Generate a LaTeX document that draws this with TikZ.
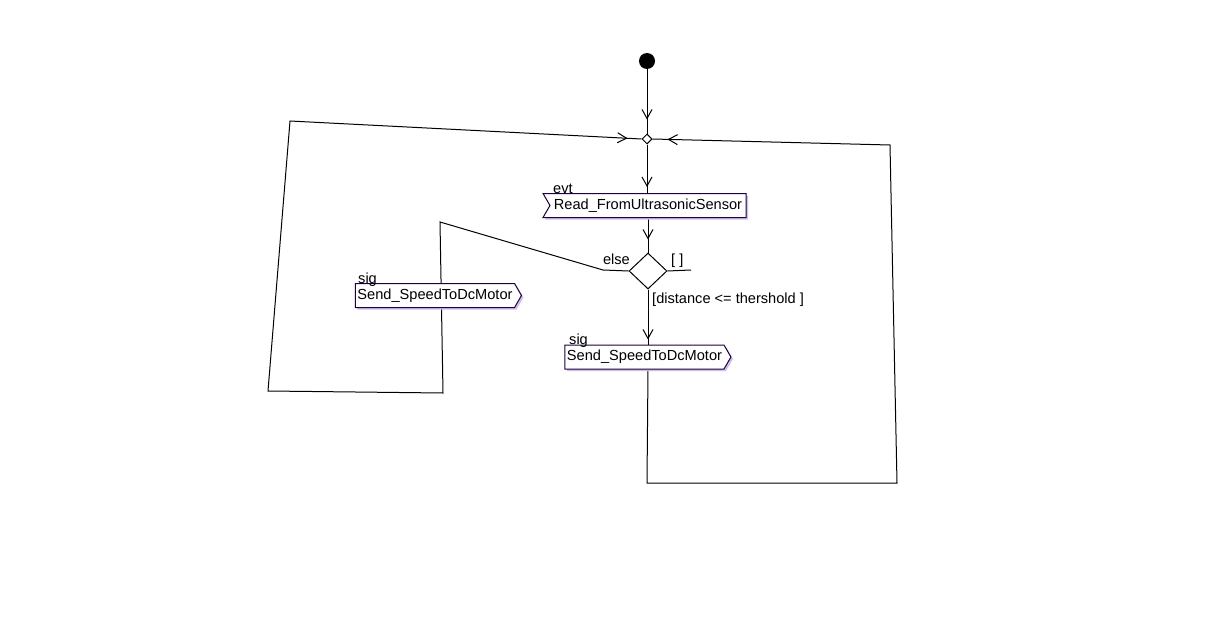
\documentclass[tikz,border=0pt]{standalone}
\usepackage{fontspec}
\setmainfont{Liberation Sans}
\usetikzlibrary{shapes.geometric,shapes.symbols,arrows.meta,decorations.markings,backgrounds,shadows,calc}
\definecolor{boxline}{RGB}{30,0,60}
\definecolor{boxshadow}{RGB}{205,190,238}
\tikzset{
  every node/.style={font=\fontsize{14.6}{16}\selectfont},
  flow/.style={line width=1pt, line join=miter},
  arrowat/.style={postaction={decorate,decoration={markings,
      mark=at position -#1 with {\arrow{Straight Barb[length=9pt,width=10pt,line width=1pt]}}}}},
  shadowed/.style={draw=boxline, line width=1pt, fill=white,
      drop shadow={shadow xshift=2pt, shadow yshift=-2pt, fill=boxshadow, opacity=1}},
  sigbox/.style={shadowed, signal, signal to=east, signal pointer angle=120,
      minimum height=24pt, inner sep=2pt},
  evtbox/.style={shadowed, signal, signal from=west, signal to=nowhere, signal pointer angle=120,
      minimum height=24pt, inner sep=2pt},
  startdot/.style={circle, fill=black, minimum size=16pt, inner sep=0pt},
  mergebox/.style={diamond, draw, line width=1pt, fill=white, minimum width=10pt, minimum height=10pt, inner sep=0pt},
  decbox/.style={diamond, draw, line width=1pt, fill=white, minimum width=38pt, minimum height=36pt, inner sep=0pt},
  lbl/.style={inner sep=0pt}
}
\begin{document}
\begin{tikzpicture}[x=1pt,y=-1pt]
\useasboundingbox (0,0) rectangle (1211,618);
% nodes
\node[startdot] (start) at (647,61) {};
\node[mergebox] (merge) at (647,139) {};
\node[evtbox, minimum width=203pt] (read) at (648,205.5) {Read\_FromUltrasonicSensor};
\node[decbox] (dec) at (648,271) {};
\node[sigbox, minimum width=164pt] (sig2) at (644.5,357) {Send\_SpeedToDcMotor};
\node[sigbox, minimum width=166pt] (sig1) at (435,295.5) {Send\_SpeedToDcMotor};
% labels
\node[lbl, anchor=base west] (evtl) at (553,193) {evt};
\node[lbl, anchor=base west] (sig2l) at (569,344) {sig};
\node[lbl, anchor=base west] (sig1l) at (358,283) {sig};
\node[lbl, anchor=base east] (elsel) at (630,264) {else};
\node[lbl, anchor=base west] (emptyl) at (671,264) {[ ]};
\node[lbl, anchor=base west] (condl) at (652,303) {[distance <= thershold ]};
% coordinates
\coordinate (l1) at (603,270);
\coordinate (l2) at (440,222);
\coordinate (l3) at (443,393);
\coordinate (l4) at (268,391);
\coordinate (l5) at (290,121);
\coordinate (r1) at (647,483);
\coordinate (r2) at (897,483);
\coordinate (r3) at (890,145);
\coordinate (stub) at (691,270);
\begin{pgfonlayer}{background}
\fill[white] (0,0) rectangle (1211,618);
\draw[flow, arrowat=14pt] (start) -- (merge.north);
\draw[flow, arrowat=6pt] (merge.south) -- (read.north -| merge.south);
\draw[flow, arrowat=13pt] (read.south -| dec.north) -- (dec.north);
\draw[flow, arrowat=5pt] (dec.south) -- (dec.south |- sig2.north);
\draw[flow] (dec.east) -- (stub);
\draw[flow, arrowat=14pt] (dec.west) -- (l1) -- (l2) -- (l3) -- (l4) -- (l5) -- (merge.west);
\draw[flow, arrowat=15pt] (dec.south |- sig2.south) -- (r1) -- (r2) -- (r3) -- (merge.east);
\end{pgfonlayer}
\end{tikzpicture}
\end{document}
